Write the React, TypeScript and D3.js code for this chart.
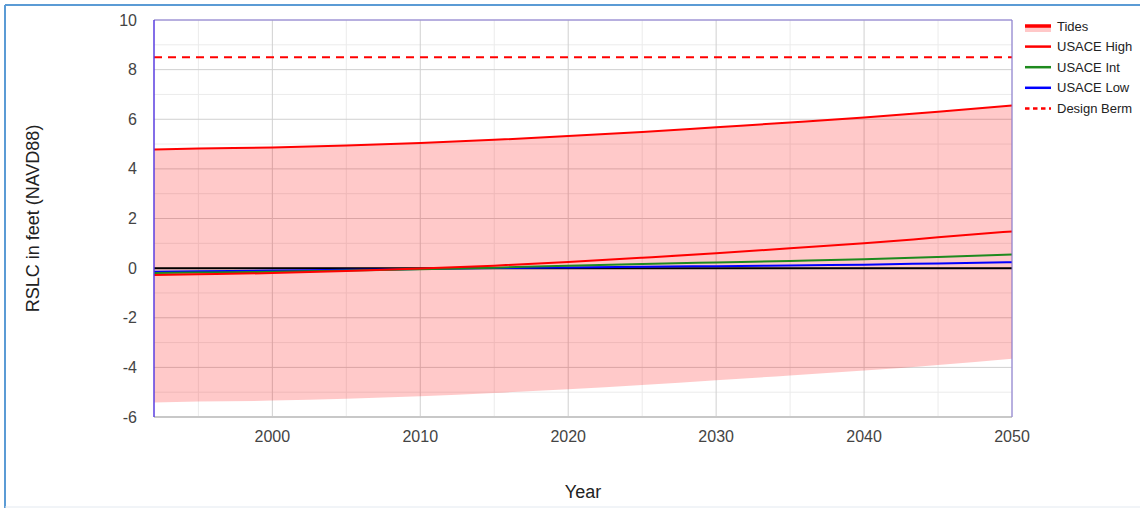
import React from "react";
import * as d3 from "d3";

const years = [1992, 1995, 2000, 2005, 2010, 2015, 2020, 2025, 2030, 2035, 2040, 2045, 2050];
const tidesUpper = [4.78, 4.82, 4.86, 4.94, 5.04, 5.17, 5.32, 5.49, 5.68, 5.87, 6.07, 6.3, 6.55];
const tidesLower = [-5.42, -5.38, -5.34, -5.26, -5.16, -5.03, -4.88, -4.71, -4.52, -4.33, -4.13, -3.9, -3.65];
const usaceHigh = [-0.28, -0.25, -0.2, -0.12, -0.02, 0.1, 0.25, 0.42, 0.6, 0.8, 1.0, 1.24, 1.48];
const usaceInt = [-0.2, -0.18, -0.15, -0.1, -0.05, 0.02, 0.1, 0.17, 0.23, 0.29, 0.36, 0.45, 0.55];
const usaceLow = [-0.15, -0.13, -0.1, -0.07, -0.04, 0.0, 0.03, 0.06, 0.08, 0.11, 0.14, 0.19, 0.24];
const designBerm = 8.5;
const xTicks = [2000, 2010, 2020, 2030, 2040, 2050];
const yTicks = [-6, -4, -2, 0, 2, 4, 6, 8, 10];
const legendLabels = ["Tides", "USACE High", "USACE Int", "USACE Low", "Design Berm"];

export default function App() {
  const W = 1140, H = 508;
  const left = 154, right = 1012, top = 20, bottom = 417;
  const x = d3.scaleLinear().domain([1992, 2050]).range([left, right]);
  const y = d3.scaleLinear().domain([-6, 10]).range([bottom, top]);
  const font = "'Liberation Sans', Arial, sans-serif";

  const area = d3.area<number>()
    .x((_, i) => x(years[i]))
    .y0((_, i) => y(tidesLower[i]))
    .y1((_, i) => y(tidesUpper[i]))
    .curve(d3.curveMonotoneX);
  const line = (vals: number[]) =>
    d3.line<number>().x((_, i) => x(years[i])).y((v) => y(v)).curve(d3.curveMonotoneX)(vals) || "";

  const minorX = d3.range(1995, 2050, 5).filter((v) => v % 10 !== 0);
  const minorY = d3.range(-5, 10, 2);

  const legendColors = ["#ff0000", "#ff0000", "#1e8a1e", "#0000ff", "#ff0000"];

  return (
    <svg width={W} height={H} style={{ position: "absolute", left: 0, top: 0, background: "#fff" }}>
      <line x1={5} y1={5} x2={W} y2={5} stroke="#5b9bd5" strokeWidth={2} />
      <line x1={5} y1={5} x2={5} y2={H} stroke="#5b9bd5" strokeWidth={2} />
      <line x1={5} y1={507} x2={W} y2={507} stroke="#e3e9f0" strokeWidth={1} />

      {minorX.map((v) => (
        <line key={"mx" + v} x1={x(v)} x2={x(v)} y1={top} y2={bottom} stroke="#ebebeb" />
      ))}
      {minorY.map((v) => (
        <line key={"my" + v} x1={left} x2={right} y1={y(v)} y2={y(v)} stroke="#ebebeb" />
      ))}
      {xTicks.map((v) => (
        <line key={"gx" + v} x1={x(v)} x2={x(v)} y1={top} y2={bottom} stroke="#d0d0d0" />
      ))}
      {yTicks.map((v) => (
        <line key={"gy" + v} x1={left} x2={right} y1={y(v)} y2={y(v)} stroke="#d0d0d0" />
      ))}

      <path d={area(years.map(() => 0)) || ""} fill="#ff0000" fillOpacity={0.21} />
      <path d={line(tidesUpper)} fill="none" stroke="#ff0000" strokeWidth={2} />
      <line x1={left} x2={right} y1={y(designBerm)} y2={y(designBerm)} stroke="#ff0000" strokeWidth={2} strokeDasharray="8,6" />
      <line x1={left} x2={right} y1={y(0)} y2={y(0)} stroke="#000" strokeWidth={2} />
      <path d={line(usaceLow)} fill="none" stroke="#0000ff" strokeWidth={2} />
      <path d={line(usaceInt)} fill="none" stroke="#1e8a1e" strokeWidth={2} />
      <path d={line(usaceHigh)} fill="none" stroke="#ff0000" strokeWidth={2} />

      <line x1={left} x2={right} y1={bottom} y2={bottom} stroke="#c8c8c8" strokeWidth={2} />
      <line x1={left} x2={right} y1={top} y2={top} stroke="#8878d8" strokeWidth={1} />
      <line x1={right} x2={right} y1={top} y2={bottom} stroke="#8878d8" strokeWidth={1} />
      <line x1={left} x2={left} y1={top} y2={bottom} stroke="#5a3ee0" strokeWidth={1.5} />

      {yTicks.map((v) => (
        <text key={"yt" + v} x={137} y={y(v)} dy="0.35em" textAnchor="end" fontFamily={font} fontSize={16} fill="#444">
          {v}
        </text>
      ))}
      {xTicks.map((v) => (
        <text key={"xt" + v} x={x(v)} y={442} textAnchor="middle" fontFamily={font} fontSize={16} fill="#444">
          {v}
        </text>
      ))}
      <text x={583} y={498} textAnchor="middle" fontFamily={font} fontSize={18} fill="#222">Year</text>
      <text transform={`translate(39,${(top + bottom) / 2}) rotate(-90)`} textAnchor="middle" fontFamily={font} fontSize={18} fill="#222">
        RSLC in feet (NAVD88)
      </text>

      {legendLabels.map((lab, i) => {
        const ly = 26 + i * 20.6;
        return (
          <g key={lab}>
            {i === 0 && <rect x={1025} y={ly} width={26} height={6} fill="#ffc8c8" />}
            <line x1={1025} x2={1051} y1={ly} y2={ly} stroke={legendColors[i]}
              strokeWidth={i === 0 ? 3.5 : 2.5} strokeDasharray={i === 4 ? "4.5,3.5" : undefined} />
            <text x={1057} y={ly} dy="0.35em" fontFamily={font} fontSize={13} fill="#222">{lab}</text>
          </g>
        );
      })}
    </svg>
  );
}
